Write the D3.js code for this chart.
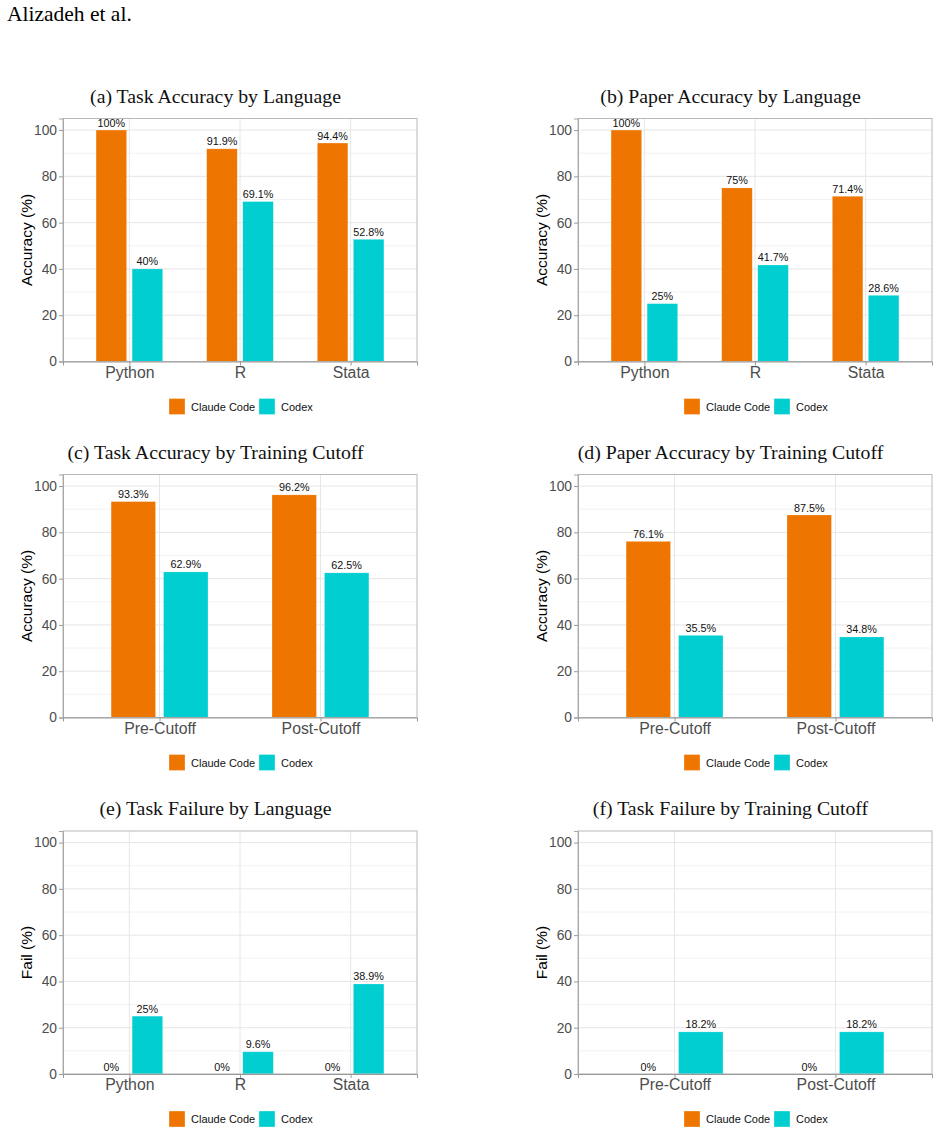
<!DOCTYPE html>
<html>
<head>
<meta charset="utf-8">
<script src="https://cdn.jsdelivr.net/npm/d3@7"></script>
<style>
  body { margin: 0; background: #fff; }
  svg { display: block; }
</style>
</head>
<body>
<div id="chart"></div>
<script>
// data
const series = ["Claude Code", "Codex"];
const colors = ["#EE7600", "#00CED1"];
const languages = ["Python", "R", "Stata"];
const cutoffs = ["Pre-Cutoff", "Post-Cutoff"];
const yTicks = [0, 20, 40, 60, 80, 100];
const yMinor = [10, 30, 50, 70, 90];

const taskAccLangClaude = [100, 91.9, 94.4];
const taskAccLangCodex = [40, 69.1, 52.8];
const paperAccLangClaude = [100, 75, 71.4];
const paperAccLangCodex = [25, 41.7, 28.6];
const taskAccCutClaude = [93.3, 96.2];
const taskAccCutCodex = [62.9, 62.5];
const paperAccCutClaude = [76.1, 87.5];
const paperAccCutCodex = [35.5, 34.8];
const taskFailLangClaude = [0, 0, 0];
const taskFailLangCodex = [25, 9.6, 38.9];
const taskFailCutClaude = [0, 0];
const taskFailCutCodex = [18.2, 18.2];

const panels = [
  {title: "(a) Task Accuracy by Language", ylab: "Accuracy (%)", cats: languages, vals: [taskAccLangClaude, taskAccLangCodex], col: 0, row: 0},
  {title: "(b) Paper Accuracy by Language", ylab: "Accuracy (%)", cats: languages, vals: [paperAccLangClaude, paperAccLangCodex], col: 1, row: 0},
  {title: "(c) Task Accuracy by Training Cutoff", ylab: "Accuracy (%)", cats: cutoffs, vals: [taskAccCutClaude, taskAccCutCodex], col: 0, row: 1},
  {title: "(d) Paper Accuracy by Training Cutoff", ylab: "Accuracy (%)", cats: cutoffs, vals: [paperAccCutClaude, paperAccCutCodex], col: 1, row: 1},
  {title: "(e) Task Failure by Language", ylab: "Fail (%)", cats: languages, vals: [taskFailLangClaude, taskFailLangCodex], col: 0, row: 2},
  {title: "(f) Task Failure by Training Cutoff", ylab: "Fail (%)", cats: cutoffs, vals: [taskFailCutClaude, taskFailCutCodex], col: 1, row: 2}
];

const W = 939, H = 1133;
const colX = [63, 578];          // panel left edges
const rowY = [118.5, 474.5, 831]; // panel top edges
const pw = 354, ph = 243;

const svg = d3.select("#chart").append("svg")
  .attr("width", W).attr("height", H);

svg.append("text")
  .attr("x", 7).attr("y", 21)
  .attr("font-family", "Liberation Serif, serif")
  .attr("font-size", 21.5)
  .attr("fill", "#000")
  .text("Alizadeh et al.");

panels.forEach(p => {
  const x0 = colX[p.col], y0 = rowY[p.row];
  const g = svg.append("g");

  const x = d3.scalePoint().domain(p.cats).range([x0, x0 + pw]).padding(0.6);
  const step = x.step();
  const dodge = d3.scaleBand().domain(series)
    .range([-0.301 * step, 0.301 * step]).paddingInner(0.153);
  const y = d3.scaleLinear().domain([0, 105]).range([y0 + ph, y0]);

  // title
  g.append("text")
    .attr("x", x0 - 63 + 215.5).attr("y", y0 - 16)
    .attr("text-anchor", "middle")
    .attr("font-family", "Liberation Serif, serif")
    .attr("font-size", 19.8)
    .attr("fill", "#111")
    .text(p.title);

  // grid
  g.selectAll(".minor").data(yMinor).enter().append("line")
    .attr("x1", x0).attr("x2", x0 + pw)
    .attr("y1", d => y(d)).attr("y2", d => y(d))
    .attr("stroke", "#f2f2f2").attr("stroke-width", 1);
  g.selectAll(".major").data(yTicks).enter().append("line")
    .attr("x1", x0).attr("x2", x0 + pw)
    .attr("y1", d => y(d)).attr("y2", d => y(d))
    .attr("stroke", "#e6e6e6").attr("stroke-width", 1);
  g.selectAll(".vgrid").data(p.cats).enter().append("line")
    .attr("x1", d => x(d)).attr("x2", d => x(d))
    .attr("y1", y0).attr("y2", y0 + ph)
    .attr("stroke", "#e6e6e6").attr("stroke-width", 1);

  // bars
  series.forEach((s, si) => {
    g.selectAll(".bar" + si).data(p.cats).enter().append("rect")
      .attr("x", d => x(d) + dodge(s))
      .attr("width", dodge.bandwidth())
      .attr("y", (d, i) => y(p.vals[si][i]))
      .attr("height", (d, i) => y(0) - y(p.vals[si][i]))
      .attr("fill", colors[si])
      .attr("stroke", "#fff").attr("stroke-opacity", 0.35).attr("stroke-width", 0.6);

    g.selectAll(".lab" + si).data(p.cats).enter().append("text")
      .attr("x", d => x(d) + dodge(s) + dodge.bandwidth() / 2)
      .attr("y", (d, i) => y(p.vals[si][i]) - 3.5)
      .attr("text-anchor", "middle")
      .attr("font-family", "Liberation Sans, Arial, sans-serif")
      .attr("font-size", 10.8)
      .attr("fill", "#111")
      .text((d, i) => p.vals[si][i] + "%");
  });

  // panel border
  g.append("rect")
    .attr("x", x0).attr("y", y0).attr("width", pw).attr("height", ph)
    .attr("fill", "none").attr("stroke", "#b8b8b8").attr("stroke-width", 1);

  // axes
  const yAxis = g.append("g")
    .attr("transform", "translate(" + x0 + ",0)")
    .call(d3.axisLeft(y).tickValues(yTicks).tickSize(4).tickPadding(2));
  yAxis.select(".domain").attr("stroke", "#a8a8a8");
  yAxis.selectAll(".tick line").attr("stroke", "#999");
  yAxis.selectAll("text")
    .attr("font-family", "Liberation Sans, Arial, sans-serif")
    .attr("font-size", 13.8).attr("fill", "#4d4d4d");

  const xAxis = g.append("g")
    .attr("transform", "translate(0," + (y0 + ph) + ")")
    .call(d3.axisBottom(x).tickSize(4).tickPadding(1));
  xAxis.select(".domain").attr("stroke", "#999");
  xAxis.selectAll(".tick line").attr("stroke", "#999");
  xAxis.selectAll("text")
    .attr("font-family", "Liberation Sans, Arial, sans-serif")
    .attr("font-size", 15.8).attr("fill", "#4d4d4d");

  // y label
  g.append("text")
    .attr("transform", "translate(" + (x0 - 31) + "," + (y0 + ph / 2) + ") rotate(-90)")
    .attr("text-anchor", "middle")
    .attr("font-family", "Liberation Sans, Arial, sans-serif")
    .attr("font-size", 15.5)
    .attr("fill", "#000")
    .text(p.ylab);

  // legend
  const lg = g.append("g")
    .attr("transform", "translate(" + (x0 + 106) + "," + (y0 + ph + 37) + ")");
  const keyX = [0, 90];
  series.forEach((s, si) => {
    lg.append("rect")
      .attr("x", keyX[si]).attr("y", 0).attr("width", 16).attr("height", 16)
      .attr("fill", colors[si])
      .attr("stroke", "#fff").attr("stroke-opacity", 0.5).attr("stroke-width", 0.6);
    lg.append("text")
      .attr("x", keyX[si] + 22).attr("y", 12)
      .attr("font-family", "Liberation Sans, Arial, sans-serif")
      .attr("font-size", 11)
      .attr("fill", "#111")
      .text(s);
  });
});
</script>
</body>
</html>
